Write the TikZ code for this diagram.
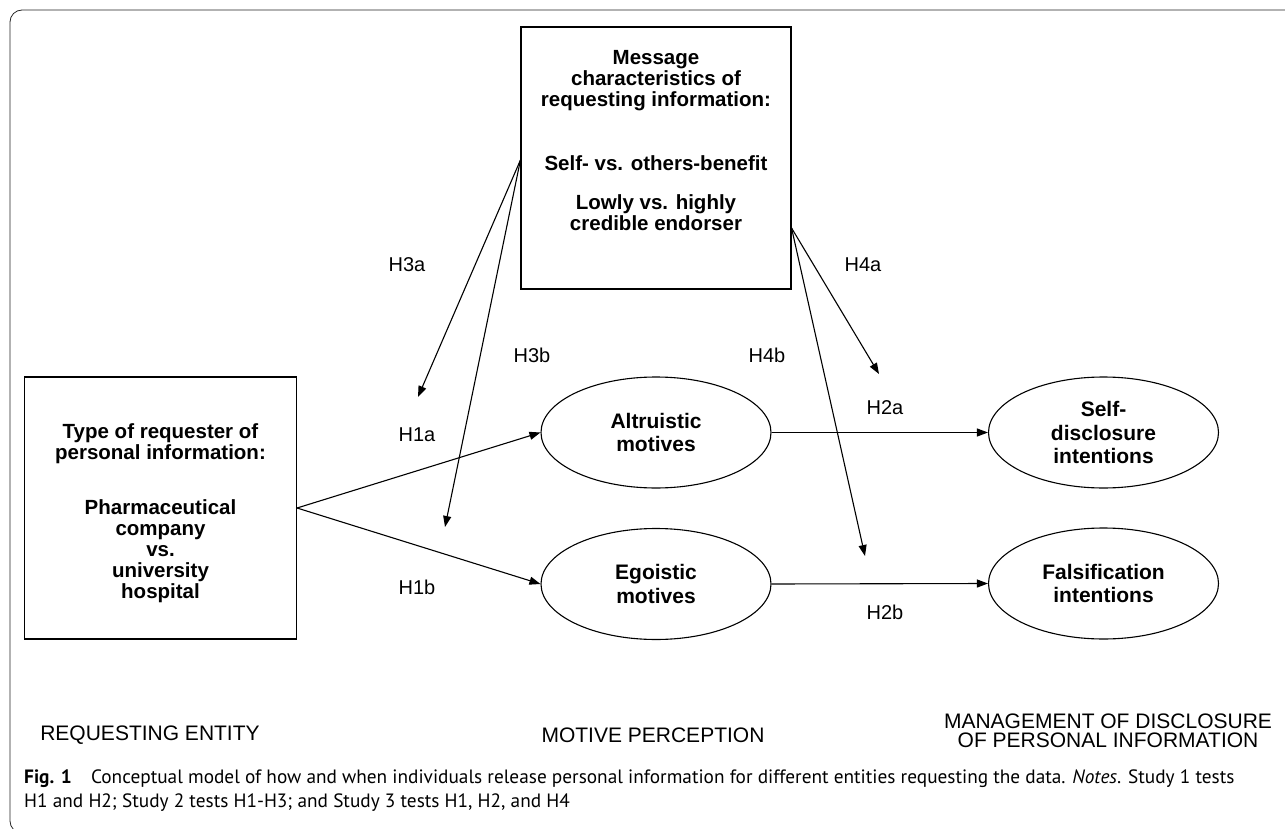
\documentclass[tikz,border=0pt]{standalone}
\usepackage{fontspec}
\setmainfont{Liberation Sans}
\newfontfamily\capfont{PT Sans}
\usetikzlibrary{arrows.meta,shapes.geometric}

\tikzset{
  box/.style={draw, line width=1.1pt, minimum width=270pt, minimum height=262pt, inner sep=0pt},
  boxtext/.style={align=center, inner sep=0pt, font=\bfseries\fontsize{20.5}{21}\selectfont},
  motive/.style={draw, ellipse, line width=1.1pt, minimum width=230pt, minimum height=111pt, inner sep=0pt,
    align=center, font=\bfseries\fontsize{21}{23.5}\selectfont},
  hyp/.style={inner sep=0pt, font=\fontsize{20}{22}\selectfont},
  stage/.style={inner sep=0pt, align=center, font=\fontsize{21}{18.5}\selectfont},
  note/.style={anchor=west, inner sep=0pt, font=\capfont\fontsize{19.3}{23}\selectfont},
  link/.style={-{Triangle[length=11pt,width=8pt]}, line width=1.1pt},
}

\begin{document}
\begin{tikzpicture}[x=1pt,y=-1pt]
	\useasboundingbox (0,0) rectangle (1285,829);
	% frame of the figure
	\draw[black!85, line width=0.8pt, rounded corners=12pt] (1300,10) -- (10,10) -- (10,833) -- (40,833);

	% boxes
	\node[box] (msg) at (656,158) {};
	\node[boxtext] (msgtxt) at (656,141) {Message\\characteristics of\\requesting information:\\[43pt]Self- vs. others-benefit\\[18pt]Lowly vs. highly\\credible endorser};
	\node[box, minimum width=272pt] (req) at (160.5,508) {};
	\node[boxtext] (reqtxt) at (160.5,513) {Type of requester of\\personal information:\\[34pt]Pharmaceutical\\company\\vs.\\university\\hospital};

	% motives and outcomes
	\node[motive] (alt) at (656,432.5) {Altruistic\\motives};
	\node[motive] (ego) at (656,584) {Egoistic\\motives};
	\node[motive] (self) at (1103.5,432.5) {Self-\\disclosure\\intentions};
	\node[motive] (fals) at (1103.5,583.5) {Falsification\\intentions};

	% moderation arrows end in free space
	\coordinate (m3) at ([yshift=-2pt]msg.west);
	\coordinate (m4) at ([yshift=-70pt]msg.east);
	\coordinate (h3a) at (418,397);
	\coordinate (h3b) at (445,527);
	\coordinate (h4a) at (879,374);
	\coordinate (h4b) at (865,556);

	\draw[link] (req.east) -- (alt.west);
	\draw[link] (req.east) -- (ego.west);
	\draw[link] (alt.east) -- (self.west);
	\draw[link] (ego.east) -- (fals.west);
	\draw[link] (m3) -- (h3a);
	\draw[link] (m3) -- (h3b);
	\draw[link] (m4) -- (h4a);
	\draw[link] (m4) -- (h4b);

	% hypotheses
	\node[hyp] (H1a) at (417,435) {H1a};
	\node[hyp] (H1b) at (417,587) {H1b};
	\node[hyp] (H2a) at (885,408) {H2a};
	\node[hyp] (H2b) at (885,612) {H2b};
	\node[hyp] (H3a) at (407,265) {H3a};
	\node[hyp] (H3b) at (532,355) {H3b};
	\node[hyp] (H4a) at (863,265) {H4a};
	\node[hyp] (H4b) at (767,355) {H4b};

	% stages
	\node[stage] (entity) at (150,735) {REQUESTING ENTITY};
	\node[stage] (percep) at (653,735) {MOTIVE PERCEPTION};
	\node[stage] (manage) at (1108,731) {MANAGEMENT OF DISCLOSURE\\OF PERSONAL INFORMATION};

	% caption
	\node[note] (cap1) at (24,779)
		{\textbf{Fig. 1}\quad Conceptual model of how and when individuals release personal information for different entities requesting the data. \textit{Notes}. Study 1 tests};
	\node[note] (cap2) at (24,803)
		{H1 and H2; Study 2 tests H1-H3; and Study 3 tests H1, H2, and H4};
\end{tikzpicture}
\end{document}
